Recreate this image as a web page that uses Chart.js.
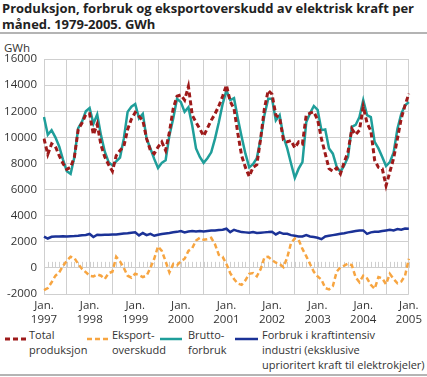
<!DOCTYPE html>
<html>
<head>
<meta charset="utf-8">
<script src="https://cdn.jsdelivr.net/npm/chart.js@4.4.1/dist/chart.umd.min.js"></script>
<style>
  body { margin: 0; width: 427px; height: 377px; position: relative; overflow: hidden;
         font-family: "Open Sans", sans-serif; color: #222; background: #fff; }
  #title { position: absolute; left: 2px; top: 0; font-weight: bold; font-size: 13px; line-height: 16px; white-space: nowrap; }
  .rule { position: absolute; left: 0; width: 427px; height: 2px; background: #b4b4b4; }
  #unit { position: absolute; left: 4px; top: 40px; font-size: 11.5px; color: #333; }
  #chart { position: absolute; left: 0; top: 38px; }
  .item { position: absolute; top: 327px; font-size: 11px; line-height: 15px; color: #333; white-space: nowrap; }
  .mark { position: absolute; top: 335px; }
</style>
</head>
<body>
<div id="title">Produksjon, forbruk og eksportoverskudd av elektrisk kraft per<br>måned. 1979-2005. GWh</div>
<div class="rule" style="top:32px"></div>
<div id="unit">GWh</div>
<canvas id="chart" width="427" height="288"></canvas>

<svg class="mark" style="left:5px" width="24" height="8"><line x1="0" y1="4" x2="24" y2="4" stroke="#9e1a1a" stroke-width="3" stroke-dasharray="5,3"/></svg>
<div class="item" style="left:29px">Total<br>produksjon</div>
<svg class="mark" style="left:87px" width="22" height="8"><line x1="0" y1="4" x2="22" y2="4" stroke="#f7a541" stroke-width="2.5" stroke-dasharray="5,3"/></svg>
<div class="item" style="left:112px">Eksport-<br>overskudd</div>
<svg class="mark" style="left:160px" width="22" height="8"><line x1="0" y1="4" x2="22" y2="4" stroke="#1f9e9a" stroke-width="2.5"/></svg>
<div class="item" style="left:188px">Brutto-<br>forbruk</div>
<svg class="mark" style="left:235px" width="23" height="8"><line x1="0" y1="4" x2="23" y2="4" stroke="#1b3297" stroke-width="2.5"/></svg>
<div class="item" style="left:262px">Forbruk i kraftintensiv<br>industri (eksklusive<br>uprioritert kraft til elektrokjeler)</div>
<div class="rule" style="top:374px"></div>

<script>
const yearLabels = ['1997', '1998', '1999', '2000', '2001', '2002', '2003', '2004', '2005'];

// monthly values, Jan 1997 .. Jan 2005 (GWh)
const prod = [
    9900, 8700, 9500, 9300, 8600, 8000, 7550, 7700, 8500, 10600, 11100, 11750,
    11800, 10200, 11000, 9400, 8500, 7900, 7400, 8600, 9000, 9300, 10600, 11400,
    11900, 11600, 11300, 9900, 9000, 8750, 9250, 9650, 9000, 10400, 12200, 13150,
    13250, 12850, 13900, 11700, 11150, 10650, 10100, 10700, 11300, 11800, 12400, 13150,
    14000, 12750, 12200, 10300, 8600, 7700, 7000, 7700, 7900, 9900, 12200, 13600,
    13300, 11700, 11500, 9800, 9650, 9750, 9200, 9650, 9500, 11700, 11850, 11950,
    11350, 9900, 8750, 7600, 7400, 7650, 7200, 8100, 8900, 10650, 10200, 10550,
    12350, 11100, 10500, 8250, 7700, 7600, 6300, 7350, 8400, 9900, 11450, 12450,
    13350
]
const eksport = [
    -1700, -1550, -1100, -600, -350, 150, 550, 850, 750, 300, -80, -330,
    -600, -650, -500, -600, -850, -400, -300, 850, 500, 0, -600, -750,
    -450, -550, -700, -600, 0, 700, 1650, 1300, 500, -350, 300, 200,
    500, 700, 1300, 1500, 2100, 2300, 2150, 2200, 2300, 1800, 1000, 850,
    300, -400, -850, -1200, -1300, -950, -450, -400, -650, -100, 800, 850,
    600, 400, 300, 50, 800, 1900, 2250, 2150, 1450, 900, 300, -300,
    -650, -900, -1550, -1650, -1400, -300, 50, 180, 330, 200, -720, -1100,
    -600, -800, -1300, -1600, -700, -800, -1250, -450, -850, -1180, -1050, -600,
    700
]
const brutto = [
    11550, 10200, 10550, 10000, 9300, 8300, 7400, 7200, 8500, 10700, 11200, 12000,
    12250, 11050, 11750, 10150, 8900, 8100, 7850, 8150, 8450, 9900, 11950, 12350,
    12550, 11450, 11800, 9900, 9150, 8350, 7650, 8050, 8250, 10150, 11450, 12950,
    12700, 11950, 12300, 10900, 9150, 8500, 8050, 8400, 8850, 9900, 11150, 12550,
    13600, 12850, 13000, 11450, 10050, 8750, 7700, 7950, 8400, 9900, 11700, 12950,
    12950, 11300, 11700, 10050, 9150, 8000, 6900, 7600, 8100, 11150, 11850, 12400,
    12100, 10550, 10600, 9150, 8750, 7750, 7350, 7850, 8500, 10800, 10950, 11550,
    12850, 11700, 11550, 9650, 9150, 8500, 7800, 8100, 8850, 10650, 11800, 12450,
    12700
]
const industri = [
    2400, 2250, 2380, 2400, 2400, 2420, 2410, 2430, 2440, 2460, 2500, 2520,
    2600, 2360, 2540, 2520, 2540, 2540, 2560, 2560, 2600, 2640, 2660, 2700,
    2720, 2490, 2670, 2510, 2610, 2460, 2540, 2600, 2640, 2680, 2730, 2760,
    2820, 2720, 2780, 2830, 2780, 2830, 2780, 2830, 2870, 2870, 2900, 2920,
    3000, 2740, 2920, 2820, 2740, 2720, 2690, 2740, 2670, 2700, 2720, 2740,
    2770, 2560, 2720, 2610, 2610, 2510, 2460, 2410, 2410, 2510, 2410, 2360,
    2310, 2200, 2410, 2460, 2510, 2560, 2610, 2660, 2720, 2770, 2820, 2870,
    2870, 2610, 2720, 2770, 2770, 2820, 2870, 2920, 2870, 2970, 2920, 3020,
    3000
]

const months = []
yearLabels.forEach((y, i) => {
    for (let m = 1; m <= 12; m++) {
        if (i < yearLabels.length - 1 || m === 1) months.push(y + '-' + String(m).padStart(2, '0'))
    }
})

const gridColor = '#cfcfcf'
const font = {family: '"Open Sans", sans-serif', size: 11.5}

// small monthly hatch marks sitting on the zero line
const zeroTicks = {
    id: 'zeroTicks',
    beforeDatasetsDraw(chart) {
        const {ctx, scales: {x, y}} = chart
        const y0 = y.getPixelForValue(0)
        ctx.save()
        ctx.strokeStyle = gridColor
        ctx.lineWidth = 1
        ctx.beginPath()
        for (let i = 0; i < months.length; i++) {
            const px = Math.round(x.getPixelForValue(i)) + 0.5
            ctx.moveTo(px, y0)
            ctx.lineTo(px, y0 - 6)
        }
        ctx.stroke()
        ctx.restore()
    }
}

new Chart(document.getElementById('chart'), {
    type: 'line',
    data: {
        labels: months,
        datasets: [
            {label: 'Total produksjon', data: prod, borderColor: '#9e1a1a', borderWidth: 3, borderDash: [5, 3]},
            {label: 'Eksportoverskudd', data: eksport, borderColor: '#f7a541', borderWidth: 2.5, borderDash: [5, 3]},
            {label: 'Bruttoforbruk', data: brutto, borderColor: '#1f9e9a', borderWidth: 2.5},
            {label: 'Forbruk i kraftintensiv industri', data: industri, borderColor: '#1b3297', borderWidth: 2.5}
        ]
    },
    options: {
        responsive: false,
        animation: false,
        layout: {padding: {top: 21, right: 17, left: 0, bottom: 0}},
        elements: {
            point: {radius: 0},
            line: {tension: 0, fill: false}
        },
        plugins: {
            legend: {display: false},
            tooltip: {enabled: false}
        },
        scales: {
            x: {
                grid: {color: c => c.index % 6 === 0 ? gridColor : 'rgba(0,0,0,0)', drawTicks: false},
                border: {display: false},
                ticks: {
                    autoSkip: false, maxRotation: 0, minRotation: 0, padding: 5,
                    color: '#333', font: font,
                    callback: (v, i) => i % 12 === 0 ? ['Jan.', yearLabels[i / 12]] : ''
                },
                afterFit: s => { s.height = 32 }
            },
            y: {
                min: -2000,
                max: 16000,
                grid: {color: gridColor, drawTicks: false},
                border: {display: false},
                ticks: {stepSize: 2000, padding: 7, color: '#333', font: font, callback: v => String(v)},
                afterFit: s => { s.width = 44 }
            }
        }
    },
    plugins: [zeroTicks]
})
</script>
</body>
</html>
